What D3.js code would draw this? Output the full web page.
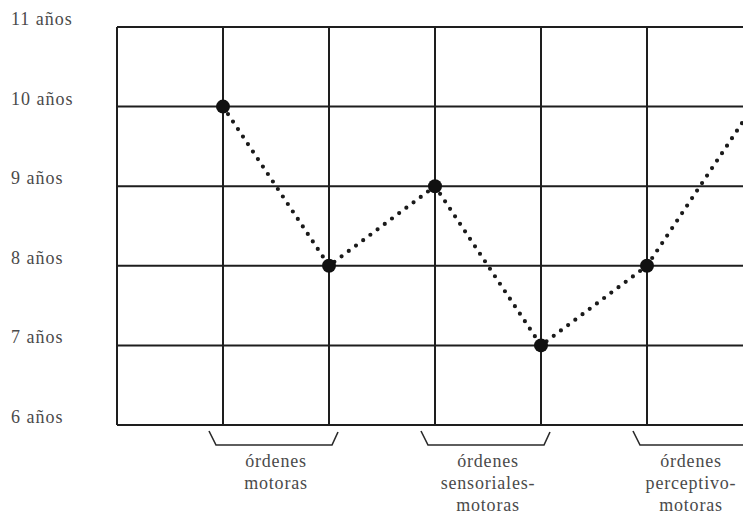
<!DOCTYPE html>
<html>
<head>
<meta charset="utf-8">
<script src="https://cdn.jsdelivr.net/npm/d3@7"></script>
<style>
  body { margin: 0; background: #fff; }
  svg { display: block; }
  text { font-family: "Liberation Serif", "Times New Roman", Times, serif; fill: #4a4a4a; }
</style>
</head>
<body>
<script>
const width = 743;
const height = 522;

// datos
const edades = [6, 7, 8, 9, 10, 11];           // eje vertical
const etiquetasEdad = edades.map(d => d + " años");
const columnas = [0, 1, 2, 3, 4, 5, 6];        // líneas verticales de la cuadrícula
const puntosCol = [1, 2, 3, 4, 5, 6];          // columna de cada punto
const puntosEdad = [10, 8, 9, 7, 8, 10];       // edad de cada punto
const gruposInicio = [1, 3, 5];                // columna donde empieza cada llave
const gruposTexto = [
  ["órdenes", "motoras"],
  ["órdenes", "sensoriales-", "motoras"],
  ["órdenes", "perceptivo-", "motoras"]
];

const svg = d3.select("body").append("svg")
  .attr("width", width)
  .attr("height", height);

// escalas
const x = d3.scaleLinear().domain([0, 6]).range([117, 753]);
const y = d3.scaleLinear().domain([6, 11]).range([425, 27]);

// cuadrícula
const grid = svg.append("g")
  .attr("stroke", "#1e1e1e")
  .attr("stroke-width", 2);

grid.selectAll("line.h")
  .data(edades)
  .join("line")
  .attr("class", "h")
  .attr("x1", x(0))
  .attr("x2", x(6))
  .attr("y1", d => y(d))
  .attr("y2", d => y(d));

grid.selectAll("line.v")
  .data(columnas)
  .join("line")
  .attr("class", "v")
  .attr("x1", d => x(d))
  .attr("x2", d => x(d))
  .attr("y1", y(11))
  .attr("y2", y(6));

// etiquetas del eje
svg.append("g").selectAll("text")
  .data(edades)
  .join("text")
  .attr("x", 11)
  .attr("y", d => y(d) - 2)
  .style("font-size", "18px")
  .style("letter-spacing", "1px")
  .text((d, i) => etiquetasEdad[i]);

// línea punteada
const puntos = puntosCol.map((c, i) => [x(c), y(puntosEdad[i])]);

svg.append("path")
  .datum(puntos)
  .attr("d", d3.line())
  .attr("fill", "none")
  .attr("stroke", "#1a1a1a")
  .attr("stroke-width", 4.2)
  .attr("stroke-linecap", "round")
  .attr("stroke-dasharray", "0,9");

svg.append("g").selectAll("circle")
  .data(puntos)
  .join("circle")
  .attr("cx", d => d[0])
  .attr("cy", d => d[1])
  .attr("r", 7)
  .attr("fill", "#111");

// llaves
const llave = svg.append("g")
  .attr("fill", "none")
  .attr("stroke", "#2a2a2a")
  .attr("stroke-width", 1.6);

llave.selectAll("path")
  .data(gruposInicio)
  .join("path")
  .attr("d", c => {
    const a = x(c), b = x(c + 1);
    return d3.line()([[a - 14, 431], [a - 7, 445], [b + 3, 445], [b + 9, 432]]);
  });

// textos de los grupos
const tg = svg.append("g");
gruposInicio.forEach((c, i) => {
  const cx = (x(c) + x(c + 1)) / 2 - (i === 2 ? 9 : 0);
  tg.append("text")
    .attr("text-anchor", "middle")
    .style("font-size", "18px")
    .style("letter-spacing", "0.8px")
    .selectAll("tspan")
    .data(gruposTexto[i])
    .join("tspan")
    .attr("x", cx)
    .attr("y", (d, j) => 467 + j * 22)
    .text(d => d);
});
</script>
</body>
</html>
